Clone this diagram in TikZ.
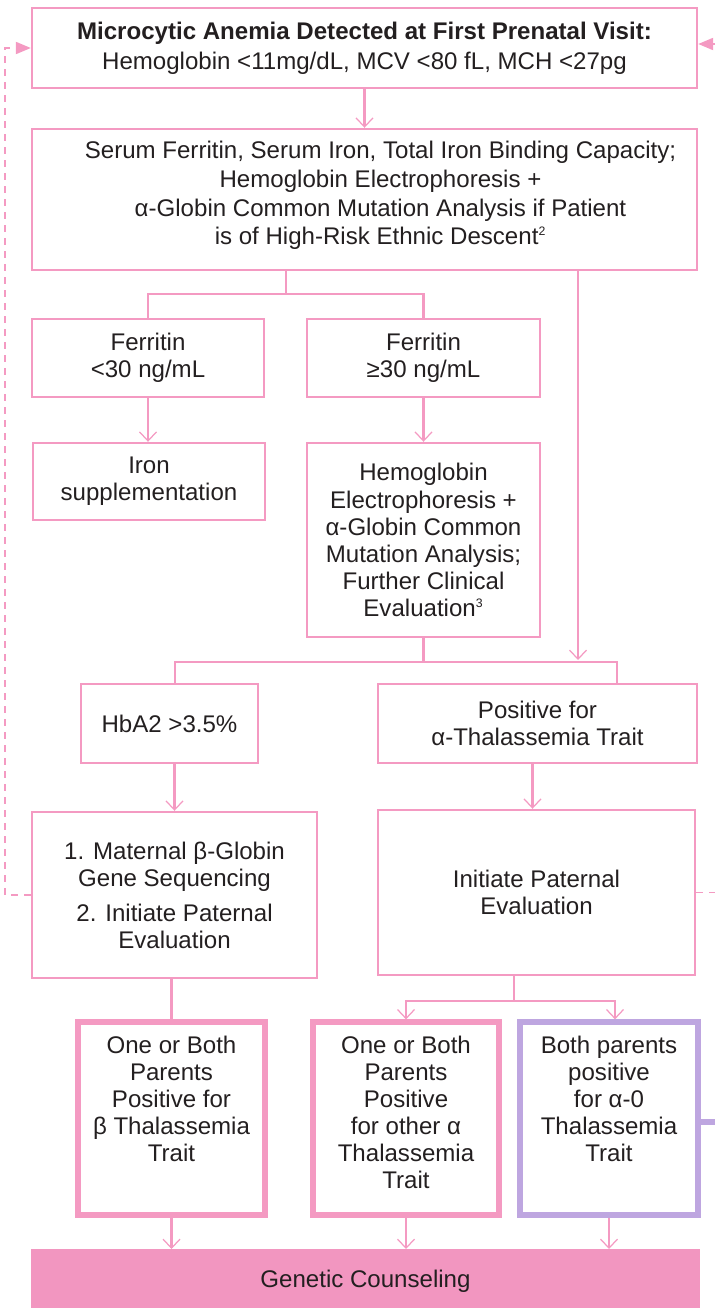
\documentclass[tikz,border=0pt]{standalone}
\usepackage{fontspec}
\setmainfont{Liberation Sans}
\usetikzlibrary{arrows.meta, positioning, calc}
\definecolor{flowPink}{RGB}{244,154,194}
\definecolor{barPink}{RGB}{242,150,192}
\definecolor{alphaPurple}{RGB}{190,166,224}
\definecolor{inkGray}{RGB}{35,31,32}
\tikzset{
  box/.style = {
    draw=flowPink,
    line width=1.4pt,
    rectangle,
    align=center,
  },
  thickBox/.style = {
    box,
    line width=3pt,
  },
  joins/.style = {
    draw=flowPink,
    line width=1.3pt,
  },
  flows/.style = {
    joins,
    -{Straight Barb[length=1.8mm, width=3.4mm, line width=0.7pt]},
  },
  dashBack/.style = {
    joins,
    line width=1.1pt,
    dash pattern=on 1.4mm off 1.2mm,
  },
  pointer/.style = {
    -{Triangle[length=3mm, width=2.4mm]},
  },
}
\newcommand{\footMark}[1]{\textsuperscript{\fontsize{7}{7}\selectfont #1}}

\begin{document}
\begin{tikzpicture}[
  x=0.02cm,
  y=-0.02cm,
  every node/.style = {
    text=inkGray,
    font=\fontsize{13.7}{15.4}\selectfont,
  },
]
\useasboundingbox (0,0) rectangle (714,1308);

\node(Top)[box, minimum width=13.3cm, minimum height=1.6cm] at (364.5,48)
  {{\bfseries Microcytic Anemia Detected at First Prenatal Visit:}\\[0.05cm]
   Hemoglobin <11mg/dL, MCV <80 fL, MCH <27pg};
\node(Tests)[box, minimum width=13.3cm, minimum height=2.82cm] at (364.5,199.5) {};
\node(TestsText)[align=center, font=\fontsize{13.7}{16.3}\selectfont] at ($(Tests.center)+(16,-4)$)
  {Serum Ferritin, Serum Iron, Total Iron Binding Capacity;\\
   Hemoglobin Electrophoresis +\\
   α-Globin Common Mutation Analysis if Patient\\
   is of High-Risk Ethnic Descent\footMark{2}};

\node(FerLow)[box, minimum width=4.64cm, minimum height=1.56cm] at (148,358) {Ferritin\\<30 ng/mL};
\node(FerHigh)[box, minimum width=4.66cm, minimum height=1.56cm] at (423.5,358) {Ferritin\\≥30 ng/mL};
\node(Iron)[box, minimum width=4.64cm, minimum height=1.54cm] at (149,481.5) {Iron\\supplementation};
\node(Hemo)[box, minimum width=4.66cm, minimum height=3.88cm] at (423.5,540)
  {Hemoglobin\\Electrophoresis +\\α-Globin Common\\Mutation Analysis;\\Further Clinical\\Evaluation\footMark{3}};

\node(HbA)[box, minimum width=3.54cm, minimum height=1.58cm] at (169.5,723.5) {HbA2 >3.5\%};
\node(PosAlpha)[box, minimum width=6.38cm, minimum height=1.58cm] at (537.5,723.5) {Positive for\\α-Thalassemia Trait};
\node(Maternal)[box, minimum width=5.7cm, minimum height=3.32cm] at (174.5,895)
  {1. Maternal β-Globin\\Gene Sequencing\\[0.16cm]2. Initiate Paternal\\Evaluation};
\node(Paternal)[box, minimum width=6.34cm, minimum height=3.3cm] at (536.5,892.5) {Initiate Paternal\\Evaluation};

\node(Beta)[thickBox, minimum width=3.74cm, minimum height=3.86cm] at (171.5,1118.5) {};
\node(OtherAlpha)[thickBox, minimum width=3.72cm, minimum height=3.86cm] at (406,1118.5) {};
\node(AlphaZero)[thickBox, draw=alphaPurple, minimum width=3.56cm, minimum height=3.86cm] at (609,1118.5) {};
\node(BetaText)[anchor=north, align=center] at ($(Beta.north)+(0,10)$)
  {One or Both\\Parents\\Positive for\\β Thalassemia\\Trait};
\node(OtherAlphaText)[anchor=north, align=center] at ($(OtherAlpha.north)+(0,10)$)
  {One or Both\\Parents\\Positive\\for other α\\Thalassemia\\Trait};
\node(AlphaZeroText)[anchor=north, align=center] at ($(AlphaZero.north)+(0,10)$)
  {Both parents\\positive\\for α-0\\Thalassemia\\Trait};

\node(Counsel)[box, draw=barPink, fill=barPink, minimum width=13.34cm, minimum height=1.26cm, anchor=north] at (365.5,1249) {Genetic Counseling};

\coordinate(SplitA) at (286,294);
\coordinate(SplitB) at (424,662);
\coordinate(SplitC) at (514,1001);
\coordinate(AlphaDrop) at (578,660);
\coordinate(LoopLeft) at (5,48);
\coordinate(EdgeRight) at (716,48);

\draw[flows] (Top.south) -- (Tests.north);
\draw[joins] (SplitA |- Tests.south) -- (SplitA);
\draw[joins] (FerLow.north) |- (SplitA) -| (FerHigh.north);
\draw[flows] (FerLow.south) -- (FerLow.south |- Iron.north);
\draw[flows] (FerHigh.south) -- (FerHigh.south |- Hemo.north);

\draw[joins] (Hemo.south) -- (Hemo.south |- SplitB);
\draw[joins] ($(HbA.north)+(5.5,0)$) |- (SplitB) -| ($(PosAlpha.north)+(79.5,0)$);
\draw[flows] (AlphaDrop |- Tests.south) -- (AlphaDrop);

\draw[flows] (HbA.south -| Maternal.north) -- (Maternal.north);
\draw[flows] ($(PosAlpha.south)+(-5,0)$) -- ($(Paternal.north)+(-4,0)$);

\draw[joins] (Maternal.south -| Beta.north) -- (Beta.north);
\draw[joins] (SplitC |- Paternal.south) -- (SplitC);
\draw[flows] (SplitC) -| (OtherAlpha.north);
\draw[flows] (SplitC) -| ($(AlphaZero.north)+(6,0)$);

\draw[flows] (Beta.south) -- (Beta.south |- Counsel.north);
\draw[flows] (OtherAlpha.south) -- (OtherAlpha.south |- Counsel.north);
\draw[flows] (AlphaZero.south) -- (AlphaZero.south |- Counsel.north);

\draw[dashBack, pointer] (Maternal.west) -- (Maternal.west -| LoopLeft) |- (Top.west);
\draw[dashBack, pointer] ($(EdgeRight)+(0,-4)$) -- ($(Top.east)+(0,-4)$);
\draw[dashBack] (Paternal.east) -- (Paternal.east -| EdgeRight);
\draw[joins, draw=alphaPurple, line width=3pt] ($(AlphaZero.east)+(0,3.5)$) -- ($(AlphaZero.east -| EdgeRight)+(0,3.5)$);

\end{tikzpicture}
\end{document}
